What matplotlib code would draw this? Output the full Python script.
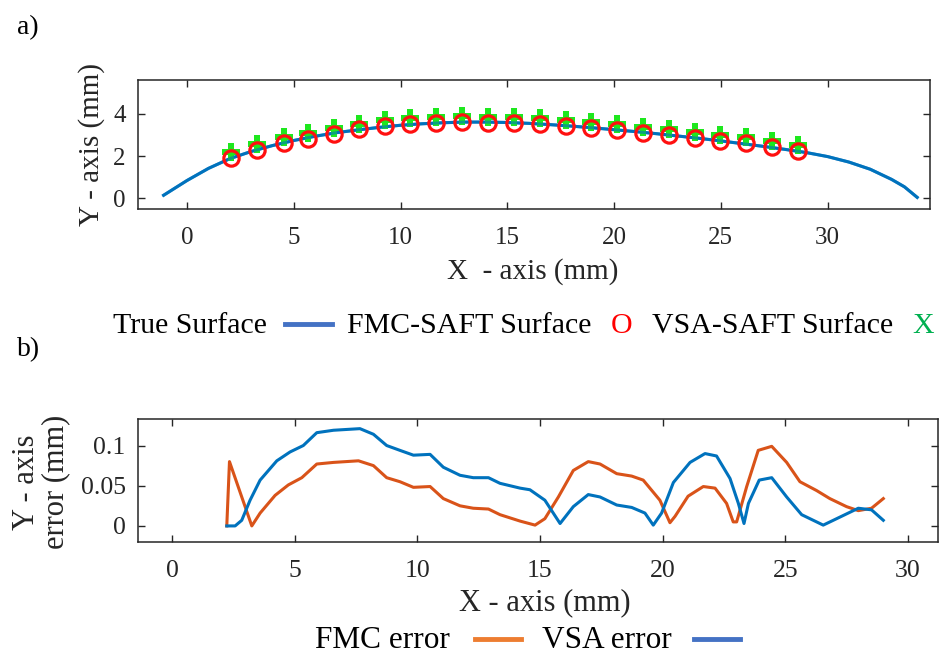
import matplotlib
matplotlib.use('Agg')
import matplotlib.pyplot as plt
from matplotlib.lines import Line2D

# true surface profile (mm)
surf_x = [-1.1, 0, 1, 2, 3, 4, 5, 6, 7, 8, 9, 10, 11, 12, 13, 14, 15, 16, 17, 18, 19,
          20, 21, 22, 23, 24, 25, 26, 27, 28, 29, 30, 31, 32, 33, 33.6, 34.2]
surf_y = [0.15, 0.85, 1.42, 1.88, 2.22, 2.50, 2.74, 2.94, 3.11, 3.24, 3.36, 3.46, 3.53,
          3.58, 3.61, 3.61, 3.59, 3.55, 3.49, 3.42, 3.34, 3.25, 3.16, 3.06, 2.95, 2.84,
          2.72, 2.59, 2.46, 2.32, 2.17, 1.98, 1.72, 1.38, 0.90, 0.55, 0.05]

# reconstructed surface points
pts_x = [2.06, 3.27, 4.52, 5.66, 6.86, 8.06, 9.25, 10.45, 11.67, 12.90, 14.08, 15.30,
         16.52, 17.75, 18.94, 20.14, 21.34, 22.56, 23.77, 24.95, 26.16, 27.38, 28.61]
fmc_pts_y = [1.92, 2.31, 2.62, 2.82, 3.07, 3.26, 3.42, 3.53, 3.58, 3.63, 3.58, 3.59,
             3.50, 3.42, 3.32, 3.23, 3.10, 2.99, 2.86, 2.73, 2.61, 2.45, 2.26]
vsa_pts_y = [2.20, 2.59, 2.90, 3.10, 3.35, 3.54, 3.70, 3.81, 3.86, 3.91, 3.86, 3.87,
             3.78, 3.70, 3.60, 3.51, 3.38, 3.27, 3.14, 3.01, 2.89, 2.73, 2.54]

# y-axis error (mm)
fmc_x = [2.23, 2.34, 3.25, 3.59, 4.20, 4.74, 5.29, 5.90, 6.58, 7.60, 8.21, 8.75, 9.29,
         9.84, 10.52, 11.06, 11.74, 12.28, 12.90, 13.37, 14.19, 14.8, 15.2, 15.75, 16.36,
         16.97, 17.45, 18.13, 18.74, 19.21, 19.89, 20.30, 20.51, 21.04, 21.66, 22.14,
         22.61, 22.88, 23.02, 23.43, 23.90, 24.45, 25.06, 25.6, 26.28, 26.82, 27.50,
         27.98, 28.52, 29.0]
fmc_err = [0.000, 0.080, 0.000, 0.016, 0.038, 0.051, 0.060, 0.077, 0.079, 0.081, 0.075,
           0.060, 0.055, 0.048, 0.049, 0.034, 0.025, 0.022, 0.021, 0.014, 0.006, 0.001,
           0.009, 0.036, 0.069, 0.080, 0.077, 0.065, 0.062, 0.057, 0.032, 0.004, 0.012,
           0.037, 0.049, 0.047, 0.028, 0.005, 0.005, 0.049, 0.094, 0.099, 0.079, 0.055,
           0.044, 0.034, 0.024, 0.019, 0.022, 0.034]
vsa_x = [2.23, 2.57, 2.84, 3.18, 3.59, 4.27, 4.81, 5.35, 5.90, 6.58, 7.66, 8.21, 8.75,
         9.29, 9.84, 10.52, 11.06, 11.74, 12.28, 12.9, 13.37, 14.19, 14.59, 15.2, 15.82,
         16.36, 16.97, 17.45, 18.13, 18.74, 19.28, 19.62, 19.96, 20.44, 21.12, 21.73,
         22.2, 22.75, 23.09, 23.32, 23.5, 23.94, 24.45, 25.06, 25.67, 26.55, 26.96,
         27.98, 28.52, 29.0]
vsa_err = [0.0, 0.0, 0.007, 0.032, 0.057, 0.081, 0.092, 0.100, 0.116, 0.119, 0.121,
           0.114, 0.100, 0.094, 0.088, 0.089, 0.073, 0.063, 0.060, 0.060, 0.053, 0.047,
           0.045, 0.032, 0.003, 0.024, 0.039, 0.036, 0.026, 0.023, 0.016, 0.001, 0.016,
           0.054, 0.079, 0.090, 0.087, 0.059, 0.028, 0.003, 0.028, 0.057, 0.060, 0.036,
           0.014, 0.001, 0.007, 0.022, 0.020, 0.007]

plt.rcParams['font.family'] = ['Liberation Serif', 'DejaVu Serif']

W, H = 939, 663
AXC = '#262626'

def fx(px):
    return px / W

def fy(py):
    return 1 - py / H

def style_axes(ax, fs):
    for sp in ax.spines.values():
        sp.set_color(AXC)
        sp.set_linewidth(1.1)
    ax.tick_params(direction='in', top=True, right=True, length=5, width=1.0,
                   colors=AXC, labelsize=fs, labelcolor=AXC)
    ax.tick_params(axis='x', pad=13)
    ax.tick_params(axis='y', pad=9)

fig = plt.figure(figsize=(W / 100, H / 100), dpi=100)

# ---- a) surface reconstruction
ax1 = fig.add_axes([fx(138), fy(209), fx(930 - 138), (209 - 80) / H])
ax1.plot(surf_x, surf_y, color='#0072BD', lw=2.2, zorder=2)
ax1.plot(pts_x, vsa_pts_y, ls='none', marker='P', ms=13.5, color='#1ee81e',
         markeredgewidth=0, zorder=3)
ax1.plot(surf_x, surf_y, color='#0072BD', lw=2.2, alpha=0.6, zorder=3.5)
ax1.plot(pts_x, fmc_pts_y, ls='none', marker='o', ms=11, mfc='none', mec='#ff1010',
         mew=2.3, zorder=4)
ax1.set_xlim(-2.3, 34.8)
ax1.set_ylim(-0.5, 5.6)
ax1.set_xticks([0, 5, 10, 15, 20, 25, 30])
ax1.set_yticks([0, 2, 4])
style_axes(ax1, 18)

fig.text(fx(17), fy(28), 'a)', fontsize=20, va='center', ha='left')
fig.text(fx(92), fy(145), 'Y - axis (mm)', fontsize=21, rotation=90,
         ha='center', va='center', color=AXC)
fig.text(fx(533), fy(272), 'X  - axis (mm)', fontsize=21, ha='center', va='center',
         color=AXC)

# legend row for a)
ly = fy(326)
fig.text(fx(113), ly, 'True Surface', fontsize=21.5, va='center', ha='left')
fig.add_artist(Line2D([fx(285), fx(332)], [fy(324), fy(324)], color='#4472C4', lw=3.5))
fig.text(fx(347), ly, 'FMC-SAFT Surface', fontsize=21.5, va='center', ha='left')
fig.text(fx(611), ly, 'O', fontsize=21.5, va='center', ha='left', color='#ff0000')
fig.text(fx(652), ly, 'VSA-SAFT Surface', fontsize=21.5, va='center', ha='left')
fig.text(fx(912), ly, 'X', fontsize=21.5, va='center', ha='left', color='#00B050')

# ---- b) y-axis error
ax2 = fig.add_axes([fx(138), fy(542), fx(938 - 138), (542 - 419) / H])
ax2.plot(fmc_x, fmc_err, color='#D95319', lw=2.2)
ax2.plot(vsa_x, vsa_err, color='#0072BD', lw=2.2)
ax2.set_xlim(-1.39, 31.23)
ax2.set_ylim(-0.02, 0.133)
ax2.set_xticks([0, 5, 10, 15, 20, 25, 30])
ax2.set_yticks([0, 0.05, 0.1])
ax2.set_yticklabels(['0', '0.05', '0.1'])
style_axes(ax2, 18.5)

fig.text(fx(17), fy(350), 'b)', fontsize=20, va='center', ha='left')
fig.text(fx(41), fy(482), 'Y - axis\nerror (mm)', fontsize=22, rotation=90,
         ha='center', va='center', multialignment='center', linespacing=1.0, color=AXC)
fig.text(fx(545), fy(603), 'X - axis (mm)', fontsize=22, ha='center', va='center',
         color=AXC)

# legend row for b)
ly2 = fy(641)
fig.text(fx(315), ly2, 'FMC error', fontsize=22.5, va='center', ha='left')
fig.add_artist(Line2D([fx(475), fx(521)], [fy(639), fy(639)], color='#ED7D31', lw=3.5))
fig.text(fx(542), ly2, 'VSA error', fontsize=22.5, va='center', ha='left')
fig.add_artist(Line2D([fx(694), fx(740)], [fy(639), fy(639)], color='#4472C4', lw=3.5))

fig.savefig('out.png', dpi=100)
